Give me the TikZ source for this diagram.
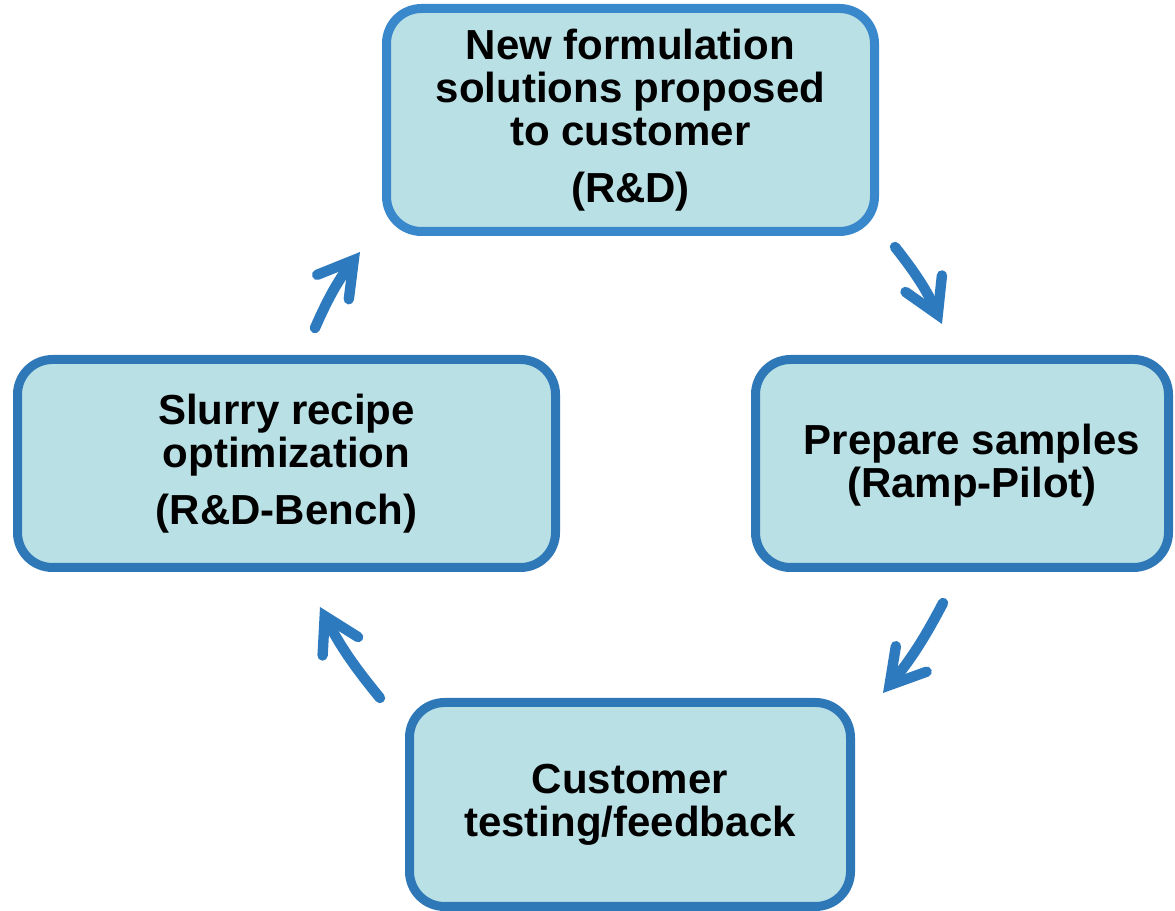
\documentclass[tikz,border=0pt]{standalone}
\usepackage{fontspec}
\setmainfont{Liberation Sans}
\usetikzlibrary{arrows.meta}
\definecolor{boxfill}{RGB}{185,224,228}
\definecolor{boxline}{RGB}{46,120,184}
\definecolor{topline}{RGB}{58,136,204}
\definecolor{arrowcol}{RGB}{46,122,190}
\begin{document}
\begin{tikzpicture}[x=0.5pt,y=0.5pt,
  box/.style={draw=boxline, fill=boxfill, line width=4.5pt, rounded corners=17.5pt,
    align=center, inner sep=0pt, font=\bfseries\fontsize{21}{21.5}\selectfont},
  txt/.style={align=center, inner sep=0pt, font=\bfseries\fontsize{21}{21.5}\selectfont},
  cyc/.style={draw=arrowcol, line width=5.2pt, line cap=round,
    -{Straight Barb[length=17pt, width=20pt, line cap=round, line join=miter]}}]
\useasboundingbox (0,0) rectangle (1175,911);
\node[box, draw=topline, minimum width=244pt, minimum height=111.5pt] (rd) at (630.5,791)
  {New formulation\\solutions proposed\\to customer\\[7pt](R\&D)};
\node[box, minimum width=206.5pt, minimum height=104pt] (samples) at (962,447.5) {};
\node[txt] (samplestext) at (972,446) {Prepare samples\\(Ramp-Pilot)};
\node[box, minimum width=269pt, minimum height=104pt] (slurry) at (286.5,447.5)
  {Slurry recipe\\optimization\\[7pt](R\&D-Bench)};
\node[box, minimum width=220.5pt, minimum height=102pt] (cust) at (630,106.5)
  {Customer\\testing/feedback};
\coordinate (a1s) at (315,583); \coordinate (a1e) at (360,659);
\coordinate (a2s) at (895,664); \coordinate (a2e) at (942,587);
\coordinate (a3s) at (943,308); \coordinate (a3e) at (883,218);
\coordinate (a4s) at (380,213); \coordinate (a4e) at (320,304);
\draw[cyc] (a1s) to[bend left=7] (a1e);
\draw[cyc] (a2s) to[bend left=7] (a2e);
\draw[cyc] (a3s) to[bend left=6] (a3e);
\draw[cyc] (a4s) to[bend left=6] (a4e);
\end{tikzpicture}
\end{document}
